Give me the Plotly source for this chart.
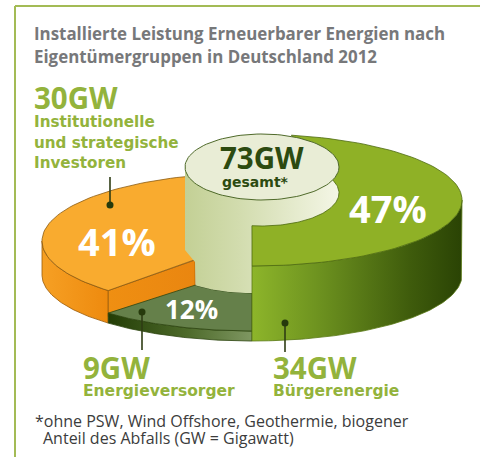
import numpy as np
import plotly.graph_objects as go

# ---- data ----
groups = ["Bürgerenergie", "Institutionelle\nund strategische\nInvestoren", "Energieversorger"]
shares = [47, 41, 12]
capacity_gw = [34, 30, 9]
total_gw = 73
title_lines = ["Installierte Leistung Erneuerbarer Energien nach", "Eigentümergruppen in Deutschland 2012"]
note_lines = ["*ohne PSW, Wind Offshore, Geothermie, biogener", "Anteil des Abfalls (GW = Gigawatt)"]

# ---- geometry of the drawing ----
W, H = 480, 457
CX, RX, RY = 252, 210, 66
BASE_Y = 275
HEIGHTS = [75, 34, 10]
ORANGE_RY = 68
start = -90.0
angles = []
for s in shares:
    angles.append((start, start + s * 3.6))
    start += s * 3.6
(g0, g1), (o0, o1), (d0, d1) = angles

def arc(a0, a1, cy, cx=CX, rx=RX, ry=RY, n=80):
    t = np.radians(np.linspace(a0, a1, n))
    return cx + rx * np.cos(t), cy - ry * np.sin(t)

def poly(fig, xs, ys, color=None, grad=None, line="rgba(0,0,0,0)", lw=0.8):
    kw = dict(fillgradient=dict(type="horizontal", colorscale=grad)) if grad else dict(fillcolor=color)
    fig.add_trace(go.Scatter(x=list(xs) + [xs[0]], y=list(ys) + [ys[0]], mode="lines", fill="toself",
                             line=dict(color=line, width=lw), hoverinfo="skip", showlegend=False, **kw))

def band(a0, a1, top_y, bot_y=BASE_Y, top_ry=RY):
    xt, yt = arc(a0, a1, top_y, ry=top_ry)
    xb, yb = arc(a1, a0, bot_y)
    return np.r_[xt, xb], np.r_[yt, yb]

fig = go.Figure()
g_top = BASE_Y - HEIGHTS[0]
o_top = BASE_Y - HEIGHTS[1]
d_top = BASE_Y - HEIGHTS[2]

# orange: side band and cut face
xs, ys = band(180, o1, o_top, top_ry=ORANGE_RY)
poly(fig, xs, ys, grad=[[0, "#f6a024"], [1, "#ee8a0e"]], line="#9a5a08")
ox_end, oy_end = arc(o1, o1, o_top, ry=ORANGE_RY, n=1)
INNER_RX, INNER_RY = 83, 29
ix = CX + INNER_RX * np.cos(np.radians(o1))
poly(fig, [ox_end[0], ix, ix, ox_end[0]],
     [oy_end[0], 260, 287, oy_end[0] + 26],
     grad=[[0, "#ef8f12"], [1, "#ea8610"]], line="#9a5a08")

# low dark sector: side and top
xs, ys = band(d0, d1, d_top)
poly(fig, xs, ys, grad=[[0, "#233d06"], [0.55, "#4d6a2a"], [1, "#7f9762"]], line="#2d4510")
xo, yo = arc(d0, d1, d_top)
xi, yi = arc(d1, d0, 264, rx=INNER_RX, ry=INNER_RY)
poly(fig, np.r_[xo, xi], np.r_[yo, yi], color="#65804a", line="#2d4510")

# orange top
xo, yo = arc(g1, o1, o_top, ry=ORANGE_RY)
poly(fig, np.r_[xo, 194, 230], np.r_[yo, 260, 200], color="#f9ab2f", line="#8a5a10")

# inner cylinder body
cyl_cx, cyl_rx, cyl_ry, cyl_cy = 262, 77, 33, 167
xb, yb = arc(d1, d0, 264, rx=INNER_RX, ry=INNER_RY)
xb2 = np.r_[185, 185, 195, xb[::-1], 252, 339, 339]
yb2 = np.r_[cyl_cy, 250, 262, yb[::-1], 293, 293, cyl_cy]
poly(fig, xb2, yb2, grad=[[0, "#c3d095"], [0.35, "#d2dcae"], [1, "#f4f6e6"]], line="rgba(0,0,0,0)")

# green: side and top
xs, ys = band(g0, 0, g_top)
poly(fig, xs, ys, grad=[[0, "#8db52a"], [0.3, "#6f9420"], [0.75, "#3f5c0c"], [1, "#2a4304"]], line="#5a7a16")
xo, yo = arc(g0, g1, g_top)
xi, yi = arc(22, -97.5, cyl_cy + 26, cx=cyl_cx, rx=cyl_rx, ry=cyl_ry)
poly(fig, np.r_[xo, xi, 252], np.r_[yo, yi, 240], color="#8fb126", line="#4c6a10")

# cylinder top
xe, ye = arc(0, 360, cyl_cy, cx=cyl_cx, rx=cyl_rx, ry=cyl_ry, n=120)
poly(fig, xe, ye, color="#e9edd6", line="#4f6a2a", lw=1)

# leader lines with dots
leaders = [([110, 110], [177, 205], 205), ([142, 142], [312, 350], 312), ([285, 285], [323, 352], 323)]
for lx, ly, dot_y in leaders:
    fig.add_trace(go.Scatter(x=lx, y=ly, mode="lines", line=dict(color="#2f3d14", width=1.6),
                             hoverinfo="skip", showlegend=False))
    fig.add_trace(go.Scatter(x=[lx[0]], y=[dot_y], mode="markers", marker=dict(color="#263a0c", size=7),
                             hoverinfo="skip", showlegend=False))

GREEN = "#93b33c"
WIDE = "DejaVu Sans"

def txt(x, y, s, size, color, anchor="left", bold=True, font="Open Sans"):
    fig.add_annotation(x=x, y=y, xref="x", yref="y", text=f"<b>{s}</b>" if bold else s, showarrow=False,
                       xanchor=anchor, yanchor="middle", font=dict(size=size, color=color, family=font),
                       align=anchor, xshift=-1 if anchor == "left" else 0)

for i, line in enumerate(title_lines):
    txt(33, 33 + 23 * i, line, 16.9, "#77787a")

txt(33, 97, f"{capacity_gw[1]}GW", 29.5, GREEN)
for i, line in enumerate(groups[1].split("\n")):
    txt(33, 122 + 20.5 * i, line, 15.2, GREEN, font=WIDE)
txt(82, 367, f"{capacity_gw[2]}GW", 29.5, GREEN)
txt(82, 391, groups[2], 15.5, GREEN, font=WIDE)
txt(272, 367, f"{capacity_gw[0]}GW", 29.5, GREEN)
txt(272, 391, groups[0], 15.5, GREEN, font=WIDE)

txt(388, 208, f"{shares[0]}%", 38, "white", "center")
txt(117, 241, f"{shares[1]}%", 38, "white", "center")
txt(191, 309, f"{shares[2]}%", 26, "white", "center")
txt(262, 157, f"{total_gw}GW", 29.5, "#2c4a10", "center")
txt(255, 182, "gesamt*", 14, "#2c4a10", "center", font=WIDE)

txt(34, 421, note_lines[0], 16, "#3c3c3c", bold=False)
txt(42, 438, note_lines[1], 16, "#3c3c3c", bold=False)

# frame: top and left rules only
fig.add_shape(type="line", x0=15, x1=480, y0=6, y1=6, line=dict(color="#a3bb55", width=2))
fig.add_shape(type="line", x0=15, x1=15, y0=6, y1=457, line=dict(color="#a3bb55", width=2))

fig.update_layout(width=W, height=H, margin=dict(l=0, r=0, t=0, b=0), paper_bgcolor="white", plot_bgcolor="white",
                  showlegend=False,
                  xaxis=dict(range=[0, W], visible=False, fixedrange=True),
                  yaxis=dict(range=[H, 0], visible=False, fixedrange=True))
fig.write_html("out.html", config={"displayModeBar": False},
               post_script="document.body.style.margin='0';document.documentElement.style.overflow='hidden';")
